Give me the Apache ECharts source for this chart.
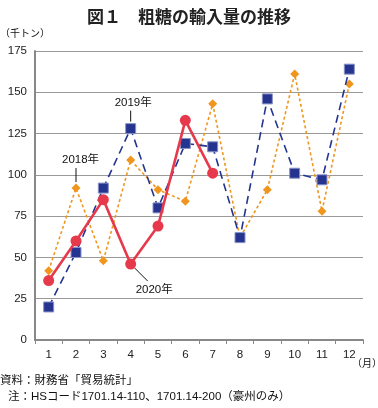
<!DOCTYPE html>
<html><head><meta charset="utf-8">
<script src="https://cdn.jsdelivr.net/npm/echarts@6/dist/echarts.min.js"></script>
<style>html,body{margin:0;padding:0;background:#fff}#c{width:378px;height:408px}</style>
</head><body><div id="c"></div>
<script>
const months = ['1','2','3','4','5','6','7','8','9','10','11','12'];
const y2018 = [42, 92, 48, 109, 91, 84, 143, 62, 91, 161, 78, 155];
const y2019 = [20, 53, 92, 128, 80, 119, 117, 62, 146, 101, 97, 164];
const y2020 = [36, 60, 85, 46, 69, 133, 101];
const yTicks = [0, 25, 50, 75, 100, 125, 150, 175];

const FONT = '"Liberation Sans", "Noto Sans CJK JP", sans-serif';
const JP = '"Noto Sans CJK JP", sans-serif';
const chart = echarts.init(document.getElementById('c'));
chart.setOption({
  animation: false,
  textStyle: {fontFamily: FONT},
  title: {text: '図１　粗糖の輸入量の推移', left: 'center', top: 3,
    textStyle: {fontFamily: JP, fontSize: 17, fontWeight: 'bold', color: '#222'}},
  grid: {left: 35, right: 15, top: 51, bottom: 68},
  xAxis: {type: 'category', data: months, boundaryGap: true,
    axisLine: {lineStyle: {color: '#888', width: 2}},
    axisTick: {show: true, length: 4, lineStyle: {color: '#888'}},
    axisLabel: {color: '#222', fontSize: 11.5, margin: 9}},
  yAxis: {type: 'value', min: yTicks[0], max: yTicks[yTicks.length-1], interval: 25,
    axisLine: {show: true, lineStyle: {color: '#888', width: 2}},
    axisTick: {show: false},
    splitLine: {lineStyle: {color: '#999', width: 1.2}},
    axisLabel: {color: '#222', fontSize: 11.5, margin: 8}},
  series: [
    {name: '2018年', type: 'line', data: y2018, symbol: 'diamond', symbolSize: 9,
      itemStyle: {color: '#f0961e'}, lineStyle: {color: '#f0961e', width: 1.6, type: [3, 2.5]}, z: 2},
    {name: '2019年', type: 'line', data: y2019, symbol: 'rect', symbolSize: 10,
      itemStyle: {color: '#25348f', borderColor: '#8a93c6', borderWidth: 1}, lineStyle: {color: '#25348f', width: 1.6, type: [8, 5]}, z: 3},
    {name: '2020年', type: 'line', data: y2020, symbol: 'circle', symbolSize: 11,
      itemStyle: {color: '#e63a4c'}, lineStyle: {color: '#e63a4c', width: 2.6}, z: 4}
  ]
});

function place() {
  const p18 = chart.convertToPixel({seriesIndex: 0}, [1, y2018[1]]);
  const p19 = chart.convertToPixel({seriesIndex: 1}, [3, y2019[3]]);
  const p20 = chart.convertToPixel({seriesIndex: 2}, [3, y2020[3]]);
  const ts = {fill: '#111', fontSize: 11.5, fontFamily: FONT};
  const ns = {fill: '#111', fontSize: 11.5, fontFamily: FONT};
  chart.setOption({graphic: [
    {type: 'line', shape: {x1: p18[0], y1: p18[1] - 6, x2: p18[0], y2: p18[1] - 20}, style: {stroke: '#111', lineWidth: 1}},
    {type: 'text', x: p18[0] - 14, y: p18[1] - 34, style: Object.assign({text: '2018年'}, ts)},
    {type: 'line', shape: {x1: p19[0], y1: p19[1] - 7, x2: p19[0], y2: p19[1] - 18}, style: {stroke: '#111', lineWidth: 1}},
    {type: 'text', x: p19[0] - 16, y: p19[1] - 32, style: Object.assign({text: '2019年'}, ts)},
    {type: 'line', shape: {x1: p20[0] + 4, y1: p20[1] + 4, x2: p20[0] + 17, y2: p20[1] + 17}, style: {stroke: '#111', lineWidth: 1}},
    {type: 'text', x: p20[0] + 5, y: p20[1] + 20, style: Object.assign({text: '2020年'}, ts)},
    {type: 'text', left: 0, top: 28, style: {text: '（千トン）', fill: '#111', fontSize: 10, fontFamily: JP}},
    {type: 'text', left: 352, top: 358, style: {text: '（月）', fill: '#111', fontSize: 10, fontFamily: JP}},
    {type: 'text', left: 0, top: 375, style: Object.assign({text: '資料：財務省「貿易統計」'}, ns)},
    {type: 'text', left: 8, top: 391, style: Object.assign({text: '注：HSコード1701.14-110、1701.14-200（豪州のみ）'}, ns)}
  ]});
}
place();
</script></body></html>
